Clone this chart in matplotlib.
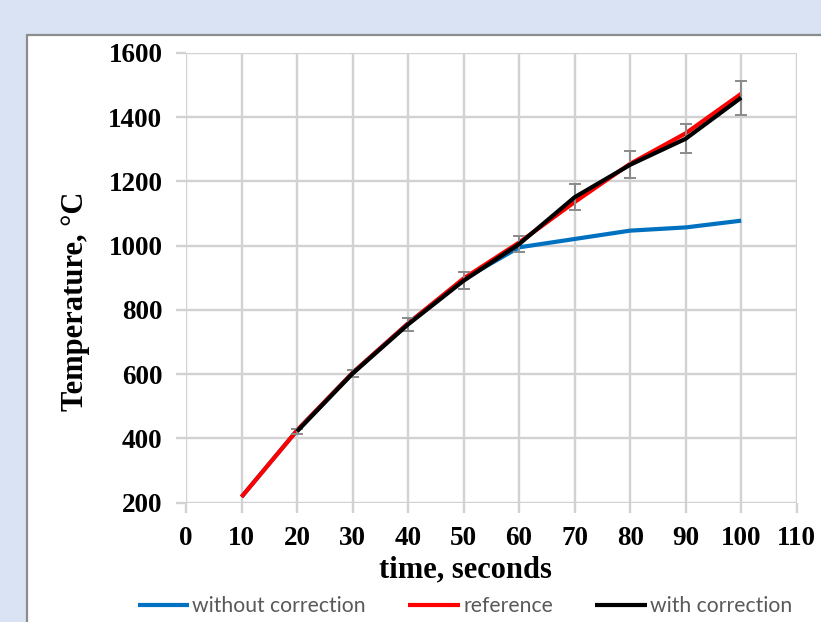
import matplotlib
matplotlib.use("Agg")
import matplotlib.pyplot as plt
from matplotlib.patches import Rectangle

# ---- data ----
time_s = [10, 20, 30, 40, 50, 60, 70, 80, 90, 100]
without_correction = [218, 425, 604, 758, 896, 995, 1021, 1047, 1057, 1078]
reference = [218, 425, 604, 758, 898, 1010, 1136, 1255, 1350, 1473]
time_corr = [20, 30, 40, 50, 60, 70, 80, 90, 100]
with_correction = [422, 602, 755, 891, 1005, 1151, 1252, 1333, 1461]
with_correction_err = [8, 12, 20, 26, 25, 40, 42, 45, 53]
x_ticks = list(range(0, 111, 10))
y_ticks = list(range(200, 1601, 200))

W, H = 821, 622
fig = plt.figure(figsize=(W / 100, H / 100), dpi=100)
fig.patch.set_facecolor("#dae3f3")

# white panel with grey border
panel = Rectangle((27 / W, -0.05), 1.0, 1 - 35 / H + 0.05, transform=fig.transFigure,
                  facecolor="white", edgecolor="#8c8c8c", linewidth=1.6, zorder=-10)
fig.patches.append(panel)

ax = fig.add_axes([186 / W, 1 - 502.7 / H, (796.7 - 186) / W, (502.7 - 53) / H])
ax.set_zorder(1)
ax.set_facecolor("none")
grid_c = "#d2d2d2"
ax.set_xlim(0, 110)
ax.set_ylim(200, 1600)
ax.set_xticks(x_ticks)
ax.set_yticks(y_ticks)
ax.grid(True, color=grid_c, linewidth=1.7)
ax.set_axisbelow(True)
for s in ax.spines.values():
    s.set_visible(False)
ax.tick_params(axis="both", direction="out", length=7, width=1.7, color=grid_c,
               labelsize=19.5)
for lab in ax.get_xticklabels() + ax.get_yticklabels():
    lab.set_fontfamily("Liberation Serif")
    lab.set_fontweight("bold")
ax.tick_params(axis="x", pad=10)
ax.tick_params(axis="y", pad=10)

l1, = ax.plot(time_s, without_correction, color="#0070c0", linewidth=3.0, zorder=3,
              solid_capstyle="butt")
l2, = ax.plot(time_s, reference, color="#ff0000", linewidth=3.0, zorder=4,
              solid_capstyle="butt")
ax.errorbar(time_corr, with_correction, yerr=with_correction_err, fmt="none",
            ecolor="#8a8a8a", elinewidth=1.4, capsize=4.5, capthick=1.4, zorder=4.5)
l3, = ax.plot(time_corr, with_correction, color="#000000", linewidth=3.0, zorder=5,
              solid_capstyle="butt")

fig.text(465 / W, 1 - 570 / H, "time, seconds", family="Liberation Serif",
         weight="bold", fontsize=22, ha="center", va="center")
fig.text(76 / W, 1 - 301 / H, "Temperature, \u00b0C", family="Liberation Serif",
         weight="bold", fontsize=22, ha="center", va="center", rotation=90)

fig.legend([l1, l2, l3], ["without correction", "reference", "with correction"],
           loc="center", bbox_to_anchor=(465 / W, 1 - 606 / H), ncol=3,
           frameon=False, prop={"family": "Lato", "size": 15.2},
           labelcolor="#595959", handlelength=2.45, handletextpad=0.15,
           columnspacing=2.0, borderpad=0, borderaxespad=0)

fig.savefig("out.png", dpi=100, facecolor=fig.get_facecolor())
